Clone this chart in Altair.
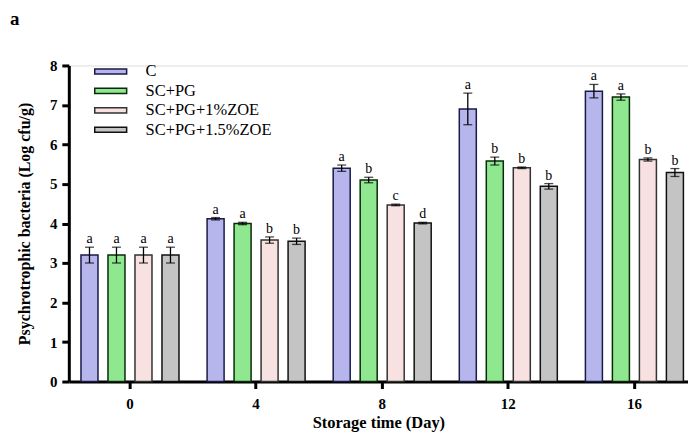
import altair as alt
import pandas as pd

days = ["0", "4", "8", "12", "16"]
groups = ["C", "SC+PG", "SC+PG+1%ZOE", "SC+PG+1.5%ZOE"]
# values per group across days
c_vals = [3.2, 4.12, 5.4, 6.9, 7.35]
pg_vals = [3.2, 4.0, 5.1, 5.58, 7.2]
z1_vals = [3.2, 3.58, 4.47, 5.41, 5.62]
z15_vals = [3.2, 3.55, 4.01, 4.94, 5.29]
c_err = [0.2, 0.03, 0.08, 0.4, 0.17]
pg_err = [0.2, 0.03, 0.07, 0.1, 0.08]
z1_err = [0.2, 0.08, 0.02, 0.02, 0.04]
z15_err = [0.2, 0.08, 0.02, 0.07, 0.1]
c_let = ["a", "a", "a", "a", "a"]
pg_let = ["a", "a", "b", "b", "a"]
z1_let = ["a", "b", "c", "b", "b"]
z15_let = ["a", "b", "d", "b", "b"]
y_ticks = [0, 1, 2, 3, 4, 5, 6, 7, 8]

fills = ["#b6b6ec", "#8fe88f", "#f7e1e1", "#c4c4c4"]
strokes = ["#1a1a4a", "#0a2a0a", "#333333", "#111111"]

rows = []
for g, vals, errs, lets in zip(groups, [c_vals, pg_vals, z1_vals, z15_vals],
                               [c_err, pg_err, z1_err, z15_err],
                               [c_let, pg_let, z1_let, z15_let]):
    for d, v, e, l in zip(days, vals, errs, lets):
        rows.append({"day": d, "group": g, "value": v, "lo": v - e, "hi": v + e, "letter": l})
df = pd.DataFrame(rows)

serif = "Liberation Serif"

xscale = alt.Scale(domain=days, paddingInner=0.15, paddingOuter=0.03, align=1)
x_axis = alt.Axis(title="Storage time (Day)", labelAngle=0, labelFont=serif,
                  labelFontWeight="bold", labelFontSize=15, labelColor="black",
                  titleFont=serif, titleFontWeight="bold", titleFontSize=16.5,
                  titleColor="black", domainColor="black", domainWidth=3,
                  tickColor="black", tickWidth=3, tickSize=7, labelPadding=8,
                  titlePadding=3)
x = alt.X("day:N", scale=xscale, sort=days, axis=x_axis)
xoff = alt.XOffset("group:N", sort=groups,
                   scale=alt.Scale(domain=groups, paddingInner=0.37, paddingOuter=0.17))
yscale = alt.Scale(domain=[0, 8], nice=False)
y_axis = alt.Axis(title="Psychrotrophic bacteria (Log cfu/g)", values=y_ticks,
                  labelOverlap=False, grid=False, labelFont=serif,
                  labelFontWeight="bold", labelFontSize=15,
                  labelColor="black", titleFont=serif, titleFontWeight="bold",
                  titleFontSize=16, titleColor="black", domainColor="black",
                  domainWidth=3, tickColor="black", tickWidth=3, tickSize=7,
                  labelPadding=5, titlePadding=17)
y = alt.Y("value:Q", scale=yscale, axis=y_axis)

color = alt.Color("group:N", sort=groups,
                  scale=alt.Scale(domain=groups, range=fills),
                  legend=alt.Legend(title=None, orient="none", legendX=33, legendY=-3,
                                    symbolType="M-2,-0.32H2V0.32H-2Z", symbolSize=256,
                                    symbolStrokeWidth=1.5, symbolStrokeColor="#222222",
                                    labelFont=serif, labelFontSize=16.5, labelColor="black",
                                    labelOffset=26, rowPadding=1.5, padding=0,
                                    symbolOpacity=1))
stroke = alt.Stroke("group:N", sort=groups,
                    scale=alt.Scale(domain=groups, range=strokes), legend=None)

bars = alt.Chart(df).mark_bar(strokeWidth=1.5, opacity=1).encode(
    x=x, xOffset=xoff, y=y, color=color, stroke=stroke)

rule = alt.Chart(df).mark_rule(color="black", strokeWidth=1.3).encode(
    x=x, xOffset=xoff,
    y=alt.Y("lo:Q", scale=yscale, axis=y_axis), y2="hi:Q")
cap_hi = alt.Chart(df).mark_tick(color="black", thickness=1.3, size=9, orient="horizontal").encode(
    x=x, xOffset=xoff,
    y=alt.Y("hi:Q", scale=yscale, axis=y_axis))
cap_lo = alt.Chart(df).mark_tick(color="black", thickness=1.3, size=9, orient="horizontal").encode(
    x=x, xOffset=xoff,
    y=alt.Y("lo:Q", scale=yscale, axis=y_axis))
letters = alt.Chart(df).mark_text(font=serif, fontSize=14, color="black", dy=-8).encode(
    x=x, xOffset=xoff,
    y=alt.Y("hi:Q", scale=yscale, axis=y_axis), text="letter:N")

panel = alt.Chart(pd.DataFrame({"t": ["a"]})).mark_text(
    font=serif, fontSize=19, fontWeight="bold", color="black", align="left",
    baseline="top").encode(
    x=alt.value(-59), y=alt.value(-56), text="t:N")

chart = alt.layer(bars, rule, cap_hi, cap_lo, letters, panel).properties(
    width=621, height=317,
    autosize=alt.AutoSizeParams(type="none"),
    padding={"left": 61, "top": 57, "right": 0, "bottom": 54},
).configure_view(stroke=None).configure(background="white")

chart.save("out.html", embed_options={"renderer": "svg", "actions": False})
